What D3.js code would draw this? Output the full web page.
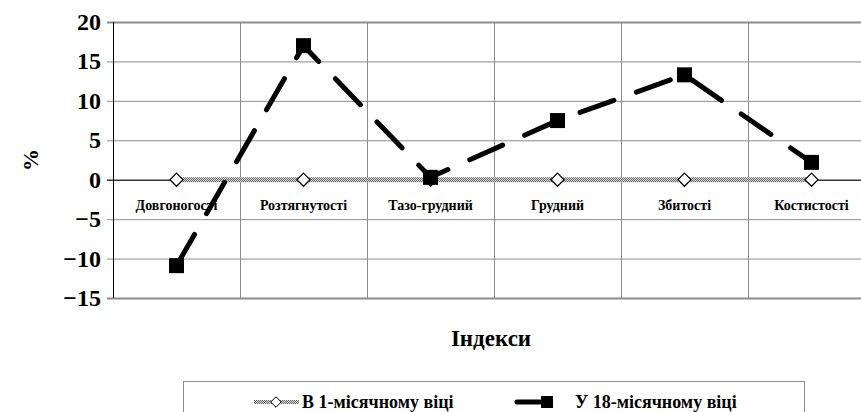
<!DOCTYPE html>
<html>
<head>
<meta charset="utf-8">
<script src="https://cdn.jsdelivr.net/npm/d3@7"></script>
<style>
  body { margin: 0; background: #fff; }
</style>
</head>
<body>
<script>
const categories = ["Довгоногості", "Розтягнутості", "Тазо-грудний", "Грудний", "Збитості", "Костистості"];
const month1 = [0, 0, 0, 0, 0, 0];
const month18 = [-10.9, 17.0, 0.3, 7.5, 13.3, 2.2];
const yTicks = [-15, -10, -5, 0, 5, 10, 15, 20];
const seriesNames = ["В 1-місячному віці", "У 18-місячному віці"];

const width = 861;
const height = 412;

const svg = d3.select("body")
    .append("svg")
    .attr("width", width)
    .attr("height", height);

function txt(sel) {
    return sel.attr("font-family", "Liberation Serif").attr("font-weight", "bold");
}

// hatched pattern for the 1-month line
const defs = svg.append("defs");
const pat = defs.append("pattern")
    .attr("id", "hatch")
    .attr("patternUnits", "userSpaceOnUse")
    .attr("width", 2)
    .attr("height", 2);
pat.append("rect").attr("width", 2).attr("height", 2).attr("fill", "#d8d8d8");
pat.append("rect").attr("width", 1).attr("height", 1).attr("fill", "#6a6a6a");
pat.append("rect").attr("x", 1).attr("y", 1).attr("width", 1).attr("height", 1).attr("fill", "#6a6a6a");

const x = d3.scaleBand()
    .domain(categories)
    .range([113, 875]);

const y = d3.scaleLinear()
    .domain([-15, 20])
    .range([298, 22]);

const cx = (c) => x(c) + x.bandwidth() / 2;

// horizontal gridlines
svg.selectAll(".hgrid")
    .data(yTicks)
    .enter()
    .append("line")
    .attr("class", "hgrid")
    .attr("x1", 107)
    .attr("x2", 875)
    .attr("y1", (d) => y(d) + 0.5)
    .attr("y2", (d) => y(d) + 0.5)
    .attr("stroke", "#8c8c8c")
    .attr("stroke-width", (d) => (d === 20 || d === -15) ? 2 : 1);

// vertical gridlines between categories
svg.selectAll(".vgrid")
    .data(categories.slice(1))
    .enter()
    .append("line")
    .attr("class", "vgrid")
    .attr("x1", (d) => x(d) + 0.5)
    .attr("x2", (d) => x(d) + 0.5)
    .attr("y1", y(20))
    .attr("y2", y(-15))
    .attr("stroke", "#8c8c8c")
    .attr("stroke-width", 1);

// axis lines
svg.append("line")
    .attr("x1", 113.5).attr("x2", 113.5)
    .attr("y1", y(20)).attr("y2", y(-15))
    .attr("stroke", "#000");
svg.append("line")
    .attr("x1", 107).attr("x2", 875)
    .attr("y1", y(0) + 0.5).attr("y2", y(0) + 0.5)
    .attr("stroke", "#000");

// y tick labels
svg.selectAll(".ylab")
    .data(yTicks)
    .enter()
    .append("text")
    .attr("class", "ylab")
    .attr("x", 101)
    .attr("y", (d) => y(d) + 8)
    .attr("text-anchor", "end")
    .attr("font-size", 24)
    .call(txt)
    .text((d) => d < 0 ? "\u2212" + Math.abs(d) : d);

// category labels
svg.selectAll(".xlab")
    .data(categories)
    .enter()
    .append("text")
    .attr("class", "xlab")
    .attr("x", (d) => cx(d))
    .attr("y", 210)
    .attr("text-anchor", "middle")
    .attr("font-size", 14)
    .call(txt)
    .text((d) => d);

// axis titles
svg.append("text")
    .attr("transform", "translate(38,160) rotate(-90)")
    .attr("text-anchor", "middle")
    .attr("font-size", 22)
    .call(txt)
    .text("%");

svg.append("text")
    .attr("x", 491)
    .attr("y", 346)
    .attr("text-anchor", "middle")
    .attr("font-size", 23)
    .call(txt)
    .text("Індекси");

const line = d3.line()
    .x((d, i) => cx(categories[i]))
    .y((d) => y(d));

// series 1: hatched line with white diamonds
svg.append("path")
    .datum(month1)
    .attr("d", line)
    .attr("fill", "none")
    .attr("stroke", "url(#hatch)")
    .attr("stroke-width", 5);

const diamond = d3.symbol().type(d3.symbolDiamond2).size(110);
svg.selectAll(".dia")
    .data(month1)
    .enter()
    .append("path")
    .attr("class", "dia")
    .attr("transform", (d, i) => `translate(${cx(categories[i])},${y(d)})`)
    .attr("d", diamond)
    .attr("fill", "#fff")
    .attr("stroke", "#000")
    .attr("stroke-width", 1.2);

// series 2: long-dashed black line with squares
svg.append("path")
    .datum(month18)
    .attr("d", line)
    .attr("fill", "none")
    .attr("stroke", "#000")
    .attr("stroke-width", 5)
    .attr("stroke-linecap", "round")
    .attr("stroke-dasharray", "36 24");

svg.selectAll(".sq")
    .data(month18)
    .enter()
    .append("rect")
    .attr("class", "sq")
    .attr("x", (d, i) => cx(categories[i]) - 7.5)
    .attr("y", (d) => y(d) - 7.5)
    .attr("width", 15)
    .attr("height", 15)
    .attr("fill", "#000");

// legend
svg.append("rect")
    .attr("x", 183.5)
    .attr("y", 381.5)
    .attr("width", 621)
    .attr("height", 40)
    .attr("fill", "#fff")
    .attr("stroke", "#8c8c8c");

svg.append("line")
    .attr("x1", 254).attr("x2", 299)
    .attr("y1", 402).attr("y2", 402)
    .attr("stroke", "url(#hatch)")
    .attr("stroke-width", 4);
svg.append("path")
    .attr("transform", "translate(276,402)")
    .attr("d", d3.symbol().type(d3.symbolDiamond2).size(70))
    .attr("fill", "#fff")
    .attr("stroke", "#000");
svg.append("text")
    .attr("x", 302)
    .attr("y", 408)
    .attr("font-size", 18)
    .call(txt)
    .text(seriesNames[0]);

svg.append("line")
    .attr("x1", 517).attr("x2", 540)
    .attr("y1", 402).attr("y2", 402)
    .attr("stroke", "#000")
    .attr("stroke-width", 5)
    .attr("stroke-linecap", "round");
svg.append("rect")
    .attr("x", 541).attr("y", 396)
    .attr("width", 12).attr("height", 12)
    .attr("fill", "#000");
svg.append("text")
    .attr("x", 575)
    .attr("y", 408)
    .attr("font-size", 18)
    .call(txt)
    .text(seriesNames[1]);
</script>
</body>
</html>
